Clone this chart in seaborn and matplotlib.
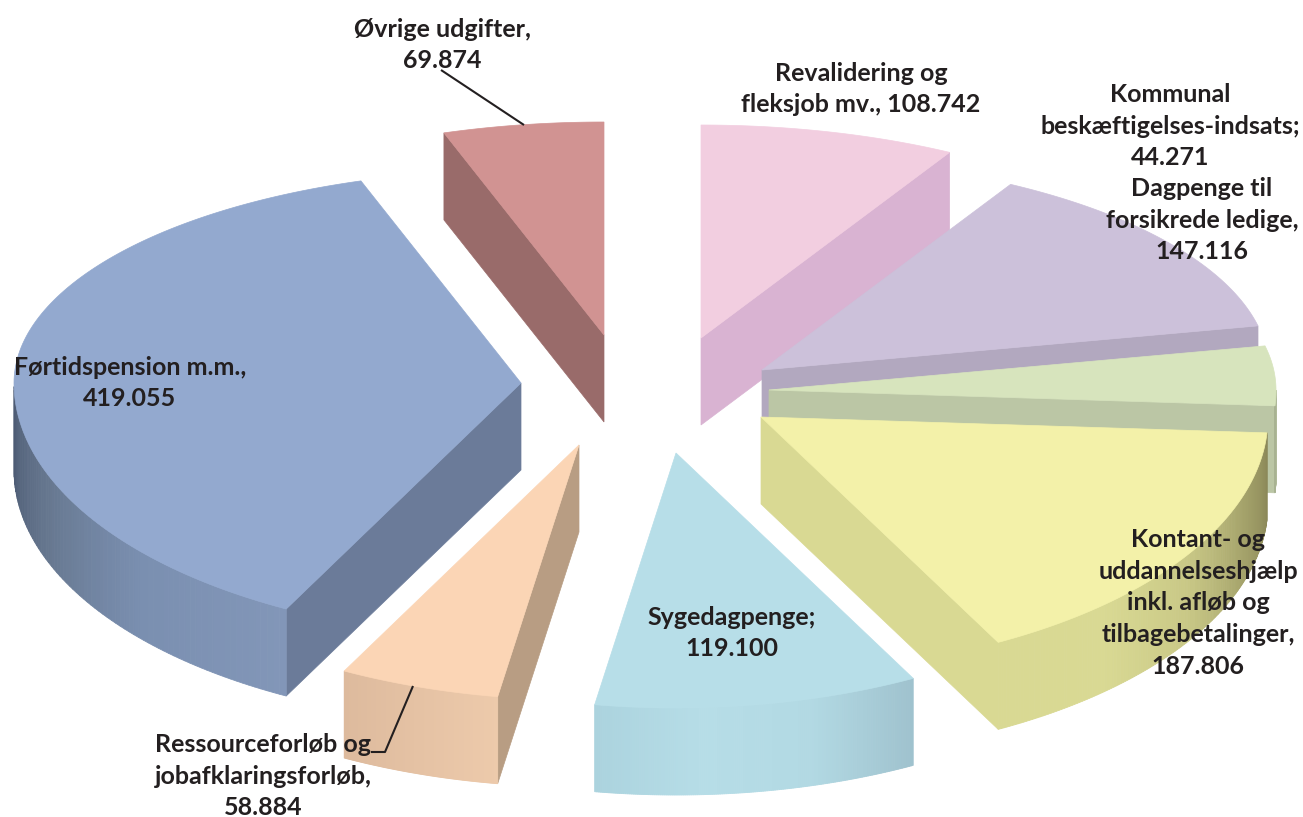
import numpy as np
import matplotlib
matplotlib.use("Agg")
import matplotlib.pyplot as plt
from matplotlib.patches import Polygon
import seaborn as sns

# ---- data (clockwise from 12 o'clock) ----
categories = ["Revalidering og\nfleksjob mv.", "Dagpenge til\nforsikrede ledige", "Kommunal\nbeskæftigelses-indsats",
              "Kontant- og\nuddannelseshjælp\ninkl. afløb og\ntilbagebetalinger", "Sygedagpenge",
              "Ressourceforløb og\njobafklaringsforløb", "Førtidspension m.m.", "Øvrige udgifter"]
values = [108.742, 147.116, 44.271, 187.806, 119.100, 58.884, 419.055, 69.874]

# ---- style ----
top_colors = ["#F2CEE0", "#CCC1DA", "#D7E4BD", "#F3F1A9", "#B7DEE8", "#FBD5B5", "#93A9CF", "#D19392"]
face_colors = ["#D9B3D2", "#B2A8BF", "#BBC6A5", "#D9D993", "#A8CEDA", "#B89D83", "#6B7B99", "#996B6A"]
wall_stops = [["#D9B3D2"], ["#B2A8BF"], ["#BBC6A5", "#A8B292"], ["#8A8758", "#A5A36B", "#C9C886", "#D9D993", "#D9D993"],
              ["#ABD3DE", "#B6DDE7", "#B2D9E3", "#9FC2CE"], ["#DDBA9D", "#EDCAAB"],
              ["#4C5A73", "#66778F", "#7A8FB0", "#8296B8"], ["#996B6A"]]
wall_dir = [1, 1, 1, 1, -1, -1, -1, 1]   # 1: stops follow clockwise angle, -1: reversed
apex_x = [701, 762, 769, 761, 676, 579, 521, 604]
apex_y = [338, 370, 390, 417, 453, 445, 383, 335]
draw_order = [0, 7, 1, 2, 3, 6, 4, 5]
RX, RY_BACK, RY_FRONT, DEPTH = 507, 213, 255, 87

labels = [(442, 45, "Øvrige udgifter,\n69.874"),
          (861, 89, "Revalidering og\nfleksjob mv., 108.742"),
          (1170, 126, "Kommunal\nbeskæftigelses-indsats;\n44.271"),
          (1202, 220, "Dagpenge til\nforsikrede ledige,\n147.116"),
          (1198, 603, "Kontant- og\nuddannelseshjælp\ninkl. afløb og\ntilbagebetalinger,\n187.806"),
          (732, 633, "Sygedagpenge;\n119.100"),
          (263, 776, "Ressourceforløb og\njobafklaringsforløb,\n58.884"),
          (130, 383, "Førtidspension m.m.,\n419.055")]
leaders = [([441, 524], [70, 125]), ([413, 385, 371], [686, 752, 752])]

sns.set_theme(style="white")
plt.rcParams["font.family"] = ["Lato", "DejaVu Sans"]

fig = plt.figure(figsize=(13.03, 8.17), dpi=100, facecolor="white")
ax = fig.add_axes([0, 0, 1, 1])
ax.set_xlim(0, 1303)
ax.set_ylim(817, 0)
ax.axis("off")


def warp(deg):
    """Foreshortening of the far half of the tilted disc."""
    d = np.asarray(deg, float)
    r = np.radians(d)
    return d - 4.9 * np.sin(2 * r) * (np.cos(r) > 0)


def project(deg, x0, y0):
    r = np.radians(warp(deg))
    c = np.cos(r)
    ry = np.where(c > 0, RY_BACK, RY_FRONT)
    return x0 + RX * np.sin(r), y0 - ry * c


edges = np.concatenate([[0], np.cumsum(values)]) / np.sum(values) * 360

for z, i in enumerate(draw_order):
    a0, a1 = edges[i], edges[i + 1]
    x0, y0 = apex_x[i], apex_y[i]
    th = np.linspace(a0, a1, 160)
    xs, ys = project(th, x0, y0)
    base = 10 + z * 10

    # radial cut faces
    phi0, phi1 = np.radians(warp(a0)), np.radians(warp(a1))
    for phi, k in ((phi0, 0), (phi1, -1)):
        visible = (np.sin(phi) < -1e-6) if k == 0 else (np.sin(phi) > 1e-6)
        if visible:
            ax.add_patch(Polygon([(x0, y0), (xs[k], ys[k]), (xs[k], ys[k] + DEPTH), (x0, y0 + DEPTH)],
                                 closed=True, fc=face_colors[i], ec=face_colors[i], lw=0.5, zorder=base))

    # outer wall (near half only), shaded strip by strip
    front = np.cos(np.radians(warp(th))) < 0
    if front.any():
        tx, ty = xs[front], ys[front]
        pal = sns.blend_palette(wall_stops[i] * (1 if len(wall_stops[i]) > 1 else 2), n_colors=len(tx))
        if wall_dir[i] < 0:
            pal = pal[::-1]
        for j in range(len(tx) - 1):
            ax.add_patch(Polygon([(tx[j], ty[j]), (tx[j + 1], ty[j + 1]),
                                  (tx[j + 1], ty[j + 1] + DEPTH), (tx[j], ty[j] + DEPTH)],
                                 closed=True, fc=pal[j], ec=pal[j], lw=0.6, zorder=base + 1))

    # top surface
    ax.add_patch(Polygon(np.column_stack([np.r_[x0, xs], np.r_[y0, ys]]), closed=True,
                         fc=top_colors[i], ec=top_colors[i], lw=0.5, zorder=base + 2))

for lx, ly in leaders:
    ax.plot(lx, ly, color="#231F20", lw=1.5, zorder=200, solid_capstyle="butt")
for x, y, s in labels:
    ax.text(x, y, s, ha="center", va="center", ma="center", fontsize=18, fontweight="bold",
            color="#231F20", linespacing=1.45, zorder=201)

fig.savefig("out.png", dpi=100, facecolor="white")
